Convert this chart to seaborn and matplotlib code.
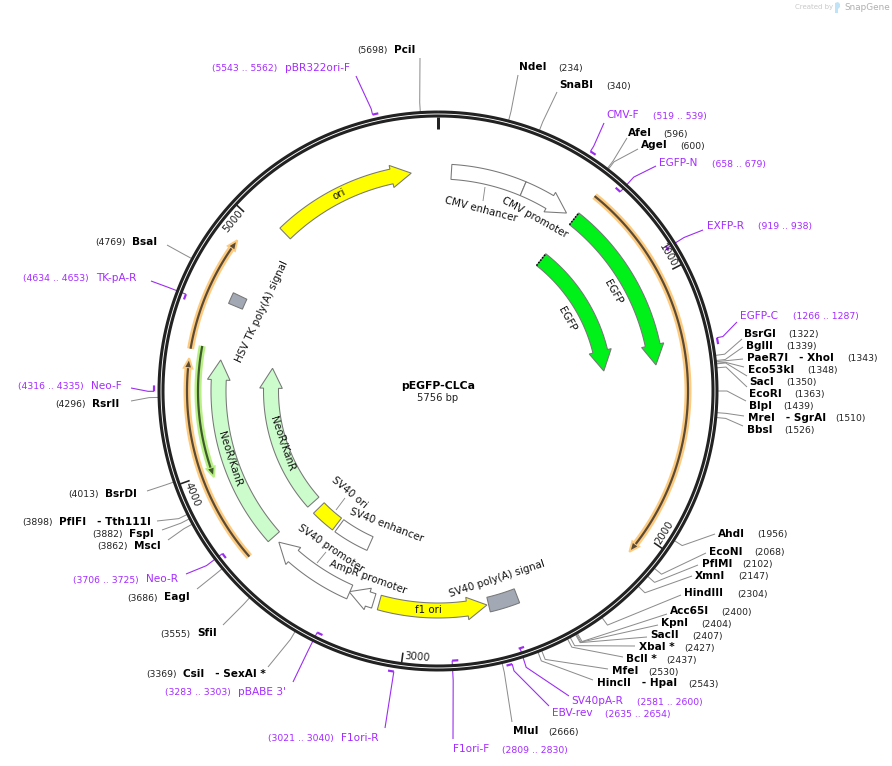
import numpy as np
import matplotlib
matplotlib.use("Agg")
import matplotlib.pyplot as plt
import seaborn as sns

plasmid_name = "pEGFP-CLCa"
plasmid_len = 5756
size_label = "5756 bp"

# restriction sites
enzyme_names = ["NdeI", "SnaBI", "AfeI", "AgeI", "BsrGI", "BglII", "PaeR7I   - XhoI", "Eco53kI", "SacI",
                "EcoRI", "BlpI", "MreI   - SgrAI", "BbsI", "AhdI", "EcoNI", "PflMI", "XmnI", "HindIII",
                "Acc65I", "KpnI", "SacII", "XbaI *", "BclI *", "MfeI", "HincII   - HpaI", "MluI",
                "CsiI   - SexAI *", "SfiI", "EagI", "MscI", "FspI", "PflFI   - Tth111I", "BsrDI",
                "RsrII", "BsaI", "PciI"]
enzyme_sites = [234, 340, 596, 600, 1322, 1339, 1343, 1348, 1350, 1363, 1439, 1510, 1526, 1956, 2068, 2102,
                2147, 2304, 2400, 2404, 2407, 2427, 2437, 2530, 2543, 2666, 3369, 3555, 3686, 3862, 3882,
                3898, 4013, 4296, 4769, 5698]
# where the grey leader of each site ends
enzyme_end_x = [518, 557, 627, 638, 742, 743, 743, 744, 747, 747, 746, 744, 743, 715, 706, 698, 692, 681,
                667, 658, 647, 635, 623, 608, 593, 512, 268, 223, 197, 168, 162, 157, 147, 131, 167, 420]
enzyme_end_y = [75, 92, 138, 149, 339, 347, 359, 367, 376, 387, 401, 416, 426, 534, 553, 565, 576, 595,
                614, 625, 637, 646, 657, 669, 680, 722, 667, 625, 589, 540, 530, 521, 491, 401, 245, 58]
enzyme_name_x = [519, 559, 628, 641, 744, 746, 747, 748, 749, 749, 749, 748, 747, 718, 709, 702, 695, 684,
                 670, 661, 650, 639, 626, 612, 597, 513, 183, 197, 164, 134, 129, 59, 105, 92, 132, 394]
enzyme_name_y = [67, 85, 133, 145, 334, 346, 358, 370, 382, 394, 406, 418, 430, 534, 552, 564, 576, 593,
                 611, 623, 635, 647, 659, 671, 683, 731, 674, 633, 597, 546, 534, 522, 494, 404, 242, 50]
enzyme_site_x = [558, 606, 663, 680, 788, 786, 847, 807, 786, 794, 783, 835, 784, 757, 754, 742, 738, 737,
                 721, 701, 692, 684, 666, 648, 688, 548, 146, 160, 127, 97, 92, 22, 68, 55, 95, 357]

# primers
primer_names = ["CMV-F", "EGFP-N", "EXFP-R", "EGFP-C", "SV40pA-R", "EBV-rev", "F1ori-F", "F1ori-R",
                "pBABE 3'", "Neo-R", "TK-pA-R", "Neo-F", "pBR322ori-F"]
primer_start = [519, 658, 919, 1266, 2581, 2635, 2809, 3021, 3283, 3706, 4634, 4316, 5543]
primer_stop = [539, 679, 938, 1287, 2600, 2654, 2830, 3040, 3303, 3725, 4653, 4335, 5562]
primer_attach = [519, 679, 928, 1266, 2595, 2635, 2830, 3021, 3303, 3725, 4653, 4316, 5543]
primer_radius = [284, 270, 270, 284, 270, 283, 270, 284, 270, 270, 270, 284, 284]
primer_end_x = [604, 656, 703, 737, 569, 549, 453, 385, 293, 186, 151, 131, 356]
primer_end_y = [123, 166, 230, 322, 696, 706, 739, 728, 682, 574, 281, 388, 76]
primer_name_x = [606, 659, 707, 740, 571, 552, 453, 341, 238, 146, 96, 91, 285]
primer_name_y = [115, 163, 226, 316, 701, 713, 749, 738, 692, 579, 278, 386, 68]
primer_site_x = [653, 712, 758, 793, 637, 605, 502, 268, 165, 73, 23, 18, 212]

# features on the two inner tracks, tail -> tip
arrow_tail = [56, 365, 613, 610, 5050, 3126, 3150, 3257, 3652, 3650]
arrow_tip = [365, 573, 1330, 1329, 5644, 2672, 3260, 3621, 4447, 4442]
arrow_head = [False, True, True, True, True, True, True, True, True, True]
arrow_rmid = [219.5, 219.5, 219.5, 167, 219.5, 219.5, 219.5, 219.5, 219.5, 167]
arrow_color = ["white", "white", "#00f01a", "#00f01a", "#ffff00", "#ffff00", "white", "white", "#ccfccc", "#ccfccc"]

box_start = [2541, 4680, 3473, 3262]
box_stop = [2665, 4727, 3606, 3457]
box_rmid = [219.5, 219.5, 167, 167]
box_color = ["#a3a9b4", "#a3a9b4", "#ffff00", "white"]

# thin ORF arrows
orf_tail = [620, 3657, 4472, 4490]
orf_tip = [2079, 4437, 4907, 3981]
orf_radius = [250, 251, 251, 240]
orf_halo = ["#fdcb80", "#fdcb80", "#fdcb80", "#b9f085"]
orf_core = ["#5a4a36", "#5a4a36", "#5a4a36", "#3e5a2c"]

feature_labels = ["CMV enhancer", "CMV promoter", "EGFP", "EGFP", "ori", "HSV TK poly(A) signal", "NeoR/KanR",
                  "NeoR/KanR", "SV40 ori", "SV40 enhancer", "SV40 promoter", "AmpR promoter", "f1 ori",
                  "SV40 poly(A) signal"]
feature_x = [481, 535, 613, 567, 339, 262, 230, 282, 349, 387, 331, 368, 428, 497]
feature_y = [209, 218, 292, 319, 194, 312, 459, 444, 493, 525, 548, 577, 610, 579]
feature_rot = [-14.5, -29, -60.5, -61, 27, 65, -72, -71, -40, -21, -34, -20, 0, 18]

tick_sites = [1000, 2000, 3000, 4000, 5000]

CX, CY, RING = 438.0, 391.0, 277.0
ELBOW = 290.0
PURPLE = "#a52bff"
LINE_PURPLE = "#9c2cf2"


def polar(bp, r):
    a = 2 * np.pi * np.asarray(bp, dtype=float) / plasmid_len
    return CX + r * np.sin(a), CY - r * np.cos(a)


def path(ax, xs, ys, color, width, z=2, cap="butt"):
    sns.lineplot(x=list(xs), y=list(ys), sort=False, estimator=None, errorbar=None, color=color,
                 linewidth=width * 0.72, solid_capstyle=cap, solid_joinstyle="miter", zorder=z, ax=ax)


def arc(bp0, bp1, r, n=80):
    return polar(np.linspace(bp0, bp1, n), r)


def draw_arrow(ax, tail, tip, rmid, color, head=True):
    half = 7.5
    sign = 1 if tip > tail else -1
    head_bp = 20.0 / rmid / (2 * np.pi) * plasmid_len * sign if head else 0
    base = tip - head_bp
    x0, y0 = arc(tail, base, rmid + half)
    x1, y1 = arc(base, tail, rmid - half)
    xs, ys = list(x0), list(y0)
    if head:
        wx, wy = polar(base, rmid + 11.3)
        tx, ty = polar(tip, rmid)
        vx, vy = polar(base, rmid - 11.3)
        xs += [wx, tx, vx]
        ys += [wy, ty, vy]
    xs += list(x1)
    ys += list(y1)
    ax.fill(xs, ys, facecolor=color, edgecolor="#777777", linewidth=0.75, zorder=4)


def draw_orf(ax, tail, tip, r, halo, core):
    sign = 1 if tip > tail else -1
    head_bp = 10.0 / r / (2 * np.pi) * plasmid_len * sign
    base = tip - head_bp
    hx, hy = arc(tail, base, r)
    path(ax, hx, hy, halo, 7.0, z=3)
    path(ax, hx, hy, core, 2.2, z=3.2)
    wx, wy = polar(base, r + 4.3)
    tx, ty = polar(tip, r)
    vx, vy = polar(base, r - 4.3)
    ax.fill([wx, tx, vx], [wy, ty, vy], facecolor=core, edgecolor=halo, linewidth=1.4, zorder=3.1)


sns.set_theme(style="white")
plt.rcParams["font.family"] = ["DejaVu Sans"]

fig = plt.figure(figsize=(8.92, 7.66), dpi=100)
ax = fig.add_axes([0, 0, 1, 1])

# restriction site leaders and labels
for i, name in enumerate(enzyme_names):
    sx, sy = polar(enzyme_sites[i], RING)
    ex, ey = polar(enzyme_sites[i], ELBOW - 1)
    path(ax, [sx, ex, enzyme_end_x[i]], [sy, ey, enzyme_end_y[i]], "#8c8c8c", 1.0, z=1)
    ax.text(enzyme_name_x[i], enzyme_name_y[i], name, fontsize=7.6, fontweight="bold", color="black",
            ha="left", va="center")
    ax.text(enzyme_site_x[i], enzyme_name_y[i] + 1, "(%d)" % enzyme_sites[i], fontsize=6.7, color="#222222",
            ha="left", va="center")

# primers
for i, name in enumerate(primer_names):
    tx, ty = arc(primer_start[i], primer_stop[i], primer_radius[i], n=8)
    path(ax, tx, ty, LINE_PURPLE, 2.2, z=2)
    sx, sy = polar(primer_attach[i], primer_radius[i])
    ex, ey = polar(primer_attach[i], ELBOW)
    path(ax, [sx, ex, primer_end_x[i]], [sy, ey, primer_end_y[i]], LINE_PURPLE, 1.1, z=1.5)
    ax.text(primer_name_x[i], primer_name_y[i], name, fontsize=7.6, color=PURPLE, ha="left", va="center")
    ax.text(primer_site_x[i], primer_name_y[i] + 1, "(%d .. %d)" % (primer_start[i], primer_stop[i]),
            fontsize=6.7, color=PURPLE, ha="left", va="center")

# backbone
rx, ry = arc(0, plasmid_len, RING, n=500)
path(ax, rx, ry, "#222222", 7.0, z=5)
path(ax, rx, ry, "white", 0.9, z=5.1)

# ruler
zx, zy = polar([0, 0], np.array([274, 262]))
path(ax, zx, zy, "#222222", 3.0, z=5)
for bp in tick_sites:
    tx, ty = polar([bp, bp], np.array([274, 264]))
    path(ax, tx, ty, "#222222", 1.6, z=5)
    lx, ly = polar(bp - 3.1 / 360 * plasmid_len, 266.5)
    deg = 360.0 * (bp - 3.1 / 360 * plasmid_len) / plasmid_len
    rot = -deg if (deg < 90 or deg > 270) else 180 - deg
    ax.text(lx, ly, str(bp), fontsize=7.3, color="#222222", rotation=rot, rotation_mode="anchor",
            ha="center", va="center", zorder=6)

# thin ORFs, big arrows, boxes
for i in range(len(orf_tail)):
    draw_orf(ax, orf_tail[i], orf_tip[i], orf_radius[i], orf_halo[i], orf_core[i])

for i in range(len(arrow_tail)):
    draw_arrow(ax, arrow_tail[i], arrow_tip[i], arrow_rmid[i], arrow_color[i], head=arrow_head[i])

for i in range(len(box_start)):
    x0, y0 = arc(box_start[i], box_stop[i], box_rmid[i] + 7.5, n=20)
    x1, y1 = arc(box_stop[i], box_start[i], box_rmid[i] - 7.5, n=20)
    ax.fill(list(x0) + list(x1), list(y0) + list(y1), facecolor=box_color[i], edgecolor="#777777",
            linewidth=0.75, zorder=4)

# truncated ends of the EGFP arrows
for bp, r in [(arrow_tail[2], arrow_rmid[2]), (arrow_tail[3], arrow_rmid[3])]:
    ex, ey = polar([bp, bp], np.array([r - 7.5, r + 7.5]))
    ax.plot(ex, ey, color="black", linewidth=1.1, linestyle=(0, (1, 1)), zorder=4.5)

# small leaders inside the ring
path(ax, [485, 483], [187, 201], "#8c8c8c", 0.9, z=3)
path(ax, [336, 345], [510, 498], "#8c8c8c", 0.9, z=3)
path(ax, [317, 326], [563, 552], "#8c8c8c", 0.9, z=3)

for i, label in enumerate(feature_labels):
    ax.text(feature_x[i], feature_y[i], label, fontsize=7.4, color="#111111", rotation=feature_rot[i],
            rotation_mode="anchor", ha="center", va="center", zorder=7)

ax.text(CX, 386, plasmid_name, fontsize=7.8, fontweight="bold", color="black", ha="center", va="center")
ax.text(CX, 398, size_label, fontsize=7.2, color="#222222", ha="center", va="center")

# logo
ax.text(795, 7.5, "Created by", fontsize=5.0, color="#c9c9c9", ha="left", va="center")
ax.fill([835, 838, 840, 840, 838, 838, 835], [3, 2, 4, 7, 9, 13, 13], facecolor="#bfe3f7", edgecolor="none")
ax.text(844, 7.5, "SnapGene", fontsize=6.4, color="#b0b0b0", ha="left", va="center")

ax.set_xlim(0, 892)
ax.set_ylim(766, 0)
ax.set_axis_off()
fig.savefig("out.png", dpi=100, facecolor="white")
